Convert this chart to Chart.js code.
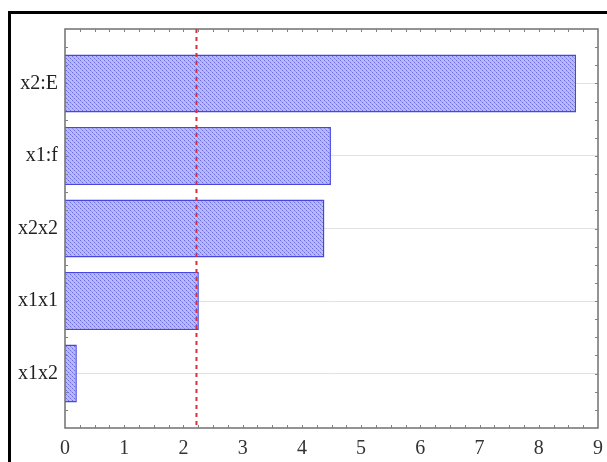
<!DOCTYPE html>
<html>
<head>
<meta charset="utf-8">
<script src="https://cdn.jsdelivr.net/npm/chart.js@4"></script>
<style>
  html, body { margin: 0; padding: 0; background: #fff; }
  #wrap { width: 607px; height: 462px; position: relative; }
</style>
</head>
<body>
<div id="wrap"><canvas id="chart-0"></canvas></div>
<script>
var categories = ['x2:E', 'x1:f', 'x2x2', 'x1x1', 'x1x2'];
var effects = [8.63, 4.49, 4.38, 2.26, 0.2];
var xTicks = [0, 1, 2, 3, 4, 5, 6, 7, 8, 9];
var threshold = 2.22;

// hatched fill like the original
function makePattern() {
    var c = document.createElement('canvas');
    c.width = 4; c.height = 4;
    var g = c.getContext('2d');
    g.fillStyle = '#b9b9f5';
    g.fillRect(0, 0, 4, 4);
    g.fillStyle = '#6c6ce4';
    g.fillRect(0, 0, 1, 1);
    g.fillRect(2, 2, 1, 1);
    g.fillStyle = '#9494ee';
    g.fillRect(1, 1, 1, 1);
    g.fillRect(3, 3, 1, 1);
    return g.createPattern(c, 'repeat');
}

var frame = {
    id: 'frame',
    beforeDraw: function (chart) {
        var ctx = chart.ctx;
        ctx.save();
        ctx.strokeStyle = '#000';
        ctx.lineWidth = 3;
        ctx.beginPath();
        ctx.moveTo(9.5, 462);
        ctx.lineTo(9.5, 12.5);
        ctx.lineTo(607, 12.5);
        ctx.stroke();
        ctx.restore();
    },
    afterDraw: function (chart) {
        var ctx = chart.ctx, a = chart.chartArea;
        var xs = chart.scales.x, ys = chart.scales.y;
        ctx.save();
        // plot border
        ctx.strokeStyle = '#707070';
        ctx.lineWidth = 1.5;
        ctx.strokeRect(a.left, a.top, a.right - a.left, a.bottom - a.top);
        // inward minor ticks
        ctx.lineWidth = 1;
        ctx.strokeStyle = '#808080';
        ctx.beginPath();
        for (var v = 0.25; v < 9; v += 0.25) {
            var px = Math.round(xs.getPixelForValue(v)) + 0.5;
            ctx.moveTo(px, a.bottom); ctx.lineTo(px, a.bottom - 3);
            ctx.moveTo(px, a.top); ctx.lineTo(px, a.top + 3);
        }
        for (var w = -0.5; w < 4.75; w += 0.25) {
            var py = Math.round(ys.getPixelForValue(w)) + 0.5;
            ctx.moveTo(a.left, py); ctx.lineTo(a.left + 3, py);
            ctx.moveTo(a.right, py); ctx.lineTo(a.right - 3, py);
        }
        ctx.stroke();
        // dashed critical line
        var tx = xs.getPixelForValue(threshold);
        ctx.strokeStyle = '#d8303c';
        ctx.lineWidth = 2;
        ctx.setLineDash([4, 4]);
        ctx.beginPath();
        ctx.moveTo(tx, a.top);
        ctx.lineTo(tx, a.bottom);
        ctx.stroke();
        ctx.restore();
    }
};

var points = effects.map(function (v, i) { return { x: v, y: i }; });

new Chart('chart-0', {
    type: 'bar',
    data: {
        datasets: [{
            data: points,
            backgroundColor: makePattern(),
            borderColor: '#4646e0',
            borderWidth: 1.5,
            barPercentage: 0.8,
            categoryPercentage: 1
        }]
    },
    options: {
        indexAxis: 'y',
        responsive: true,
        maintainAspectRatio: false,
        animation: false,
        layout: { padding: { top: 29, right: 9, left: 0, bottom: 0 } },
        plugins: { legend: { display: false }, tooltip: { enabled: false } },
        scales: {
            x: {
                type: 'linear',
                min: 0,
                max: 9,
                afterBuildTicks: function (s) {
                    s.ticks = xTicks.map(function (t) { return { value: t }; });
                },
                afterFit: function (s) {
                    s.height = 34;
                    s.paddingRight = 0;
                    s.paddingLeft = 0;
                },
                grid: { display: false, drawTicks: false },
                border: { display: false },
                ticks: {
                    padding: 9,
                    color: '#333',
                    font: { family: 'Liberation Serif', size: 20 },
                    maxRotation: 0
                }
            },
            y: {
                type: 'linear',
                reverse: true,
                offset: false,
                min: -0.75,
                max: 4.75,
                afterBuildTicks: function (s) {
                    s.ticks = categories.map(function (c, i) { return { value: i }; });
                },
                afterFit: function (s) { s.width = 65; },
                grid: { color: '#e2e2e2', lineWidth: 1, drawTicks: false, offset: false },
                border: { display: false },
                ticks: {
                    padding: 7,
                    color: '#222',
                    font: { family: 'Liberation Serif', size: 20 },
                    callback: function (v) { return categories[v]; }
                }
            }
        }
    },
    plugins: [frame]
});
</script>
</body>
</html>
